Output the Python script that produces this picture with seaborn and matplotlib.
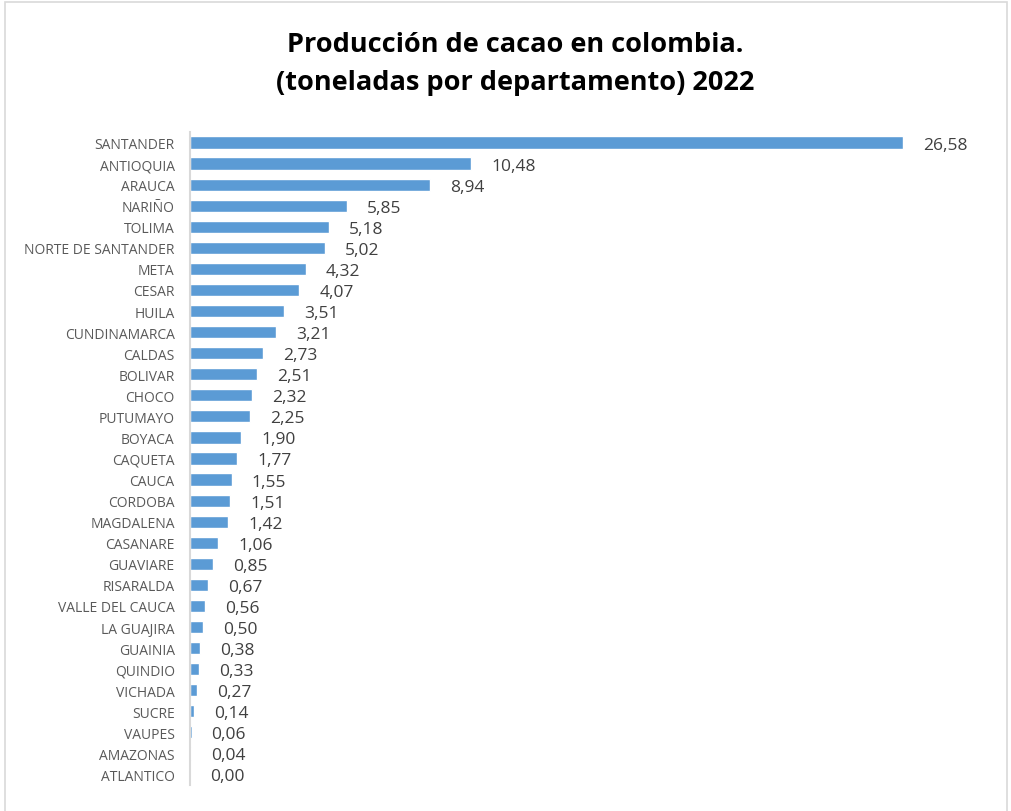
import matplotlib
matplotlib.use("Agg")
import matplotlib.pyplot as plt
import seaborn as sns
import pandas as pd
from matplotlib.patches import Rectangle

departamentos = ["SANTANDER", "ANTIOQUIA", "ARAUCA", "NARIÑO", "TOLIMA",
                 "NORTE DE SANTANDER", "META", "CESAR", "HUILA", "CUNDINAMARCA",
                 "CALDAS", "BOLIVAR", "CHOCO", "PUTUMAYO", "BOYACA", "CAQUETA",
                 "CAUCA", "CORDOBA", "MAGDALENA", "CASANARE", "GUAVIARE",
                 "RISARALDA", "VALLE DEL CAUCA", "LA GUAJIRA", "GUAINIA",
                 "QUINDIO", "VICHADA", "SUCRE", "VAUPES", "AMAZONAS", "ATLANTICO"]
toneladas = [26.58, 10.48, 8.94, 5.85, 5.18, 5.02, 4.32, 4.07, 3.51, 3.21,
             2.73, 2.51, 2.32, 2.25, 1.90, 1.77, 1.55, 1.51, 1.42, 1.06,
             0.85, 0.67, 0.56, 0.50, 0.38, 0.33, 0.27, 0.14, 0.06, 0.04, 0.00]

df = pd.DataFrame({"dep": departamentos, "ton": toneladas})

sns.set_style("white")
plt.rcParams["font.family"] = ["Open Sans", "DejaVu Sans"]

W, H = 1011, 812
fig = plt.figure(figsize=(W / 100, H / 100), dpi=100)
ax = fig.add_axes([190 / W, 1 - 786 / H, 800 / W, (786 - 133) / H])

sns.barplot(data=df, x="ton", y="dep", color="#5B9BD5", saturation=1,
            width=0.58, ax=ax)

ax.set_xlim(0, 800 / 26.82)
ax.set_ylim(len(departamentos) - 0.5, -0.5)
ax.set_xlabel("")
ax.set_ylabel("")
ax.set_xticks([])
ax.tick_params(axis="y", length=0, pad=11, labelsize=10, labelcolor="#595959")
for s in ["top", "right", "bottom"]:
    ax.spines[s].set_visible(False)
ax.spines["left"].set_color("#D9D9D9")
ax.spines["left"].set_linewidth(1.5)

# etiquetas de valor con coma decimal
for i, v in enumerate(toneladas):
    ax.annotate(f"{v:.2f}".replace(".", ","), xy=(v, i), xytext=(20, -2),
                textcoords="offset pixels", ha="left", va="center",
                fontsize=12.5, color="#404040")

fig.text(515 / W, 1 - 64 / H,
         "Producción de cacao en colombia.\n(toneladas por departamento) 2022",
         ha="center", va="center", fontsize=19.5, fontweight="bold",
         color="black", linespacing=1.55)

# marco del grafico
fig.patches.append(Rectangle((5 / W, -0.05), 1002 / W, 1.05 - 3 / H,
                             transform=fig.transFigure, fill=False,
                             edgecolor="#D9D9D9", linewidth=1.2))

fig.savefig("out.png", dpi=100)
